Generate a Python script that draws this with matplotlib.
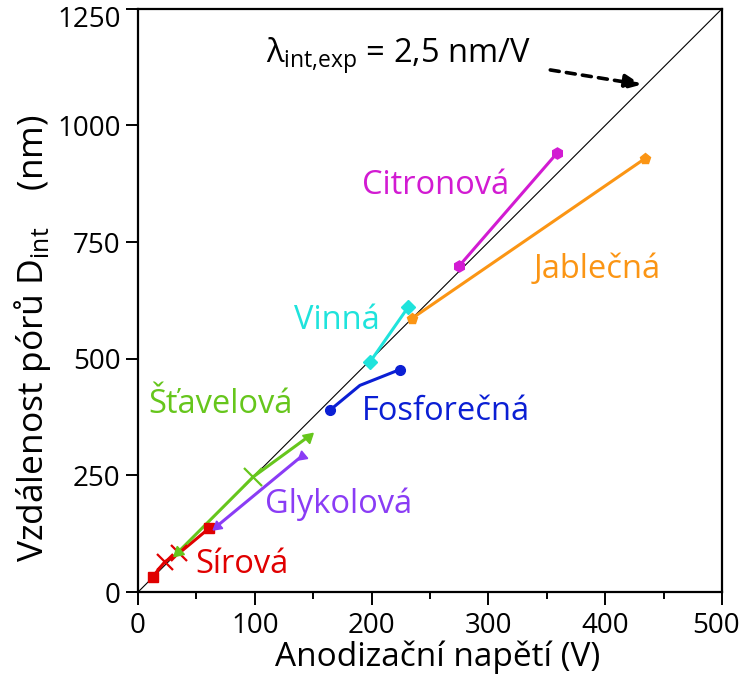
import numpy as np
import matplotlib
matplotlib.use("Agg")
import matplotlib.pyplot as plt
import matplotlib.transforms as mtransforms

plt.rcParams['font.family'] = ['Open Sans', 'DejaVu Sans']
plt.rcParams['mathtext.fontset'] = 'custom'
plt.rcParams['mathtext.rm'] = 'Open Sans'

# data (voltage V, distance nm)
sirova_x = [12.6, 23, 35, 61]
sirova_y = [33, 65, 83, 137]
stavel_x = [34.5, 98.7, 145.8]
stavel_y = [86, 247, 333]
glykol_x = [67.4, 140]
glykol_y = [141, 291]
fosfor_x = [164.4, 190, 224.3]
fosfor_y = [390, 443, 477]
vinna_x = [198.6, 231.4]
vinna_y = [493, 611]
jablec_x = [234.3, 434]
jablec_y = [586, 929]
citron_x = [275, 358.5]
citron_y = [699, 940]

lam = 2.5  # nm/V
lam_x = [0, 500]

labels = ["Sírová", "Šťavelová", "Glykolová", "Fosforečná", "Vinná", "Jablečná", "Citronová"]
label_x = [89, 71, 172, 264, 170, 393, 255]
label_y = [60, 401, 189, 388, 583, 692, 872]

RED = "#e00000"
GREEN = "#66c61c"
PURPLE = "#8a3cf5"
BLUE = "#0b1fd4"
CYAN = "#1fe3dc"
ORANGE = "#fb9514"
MAGENTA = "#d21bd2"
colors = [RED, GREEN, PURPLE, BLUE, CYAN, ORANGE, MAGENTA]

fig = plt.figure(figsize=(7.42, 6.79), dpi=100)
ax = fig.add_axes([0.186, 0.128, 0.787, 0.859])
ax.set_xlim(0, 500)
ax.set_ylim(0, 1250)

ax.plot(lam_x, [lam * v for v in lam_x], color="black", lw=0.8, zorder=1)

lw = 2.2
# Sirova: squares at ends, crosses in between
ax.plot(sirova_x, sirova_y, color=RED, lw=lw, zorder=3)
ax.plot([sirova_x[0], sirova_x[-1]], [sirova_y[0], sirova_y[-1]], ls="none",
        marker="s", ms=7, color=RED, zorder=4)
ax.plot(sirova_x[1:3], sirova_y[1:3], ls="none", marker="x", ms=12, mew=1.6,
        color=RED, zorder=4)


def direction(xs, ys, i0, i1):
    p0 = ax.transData.transform((xs[i0], ys[i0]))
    p1 = ax.transData.transform((xs[i1], ys[i1]))
    return np.degrees(np.arctan2(p1[1] - p0[1], p1[0] - p0[0]))


# Stavelova: arrowheads at both ends, cross in the middle
ax.plot(stavel_x, stavel_y, color=GREEN, lw=lw, zorder=3)
ang = direction(stavel_x, stavel_y, 0, -1)
ax.plot(stavel_x[-1:], stavel_y[-1:], ls="none", marker=(3, 0, ang - 90), ms=9,
        color=GREEN, zorder=4)
ax.plot(stavel_x[:1], stavel_y[:1], ls="none", marker=(3, 0, ang + 90), ms=9,
        color=GREEN, zorder=4)
ax.plot(stavel_x[1:2], stavel_y[1:2], ls="none", marker="x", ms=13, mew=1.6,
        color=GREEN, zorder=4)

# Glykolova
ax.plot(glykol_x, glykol_y, color=PURPLE, lw=lw, zorder=3)
ang = direction(glykol_x, glykol_y, 0, -1)
ax.plot(glykol_x, glykol_y, ls="none", marker=(3, 0, ang + 90), ms=8,
        color=PURPLE, zorder=4)

ax.plot(fosfor_x, fosfor_y, color=BLUE, lw=lw, zorder=3)
ax.plot([fosfor_x[0], fosfor_x[-1]], [fosfor_y[0], fosfor_y[-1]], ls="none",
        marker="o", ms=7, color=BLUE, zorder=4)
ax.plot(vinna_x, vinna_y, color=CYAN, lw=lw, marker="D", ms=7, zorder=3)
ax.plot(jablec_x, jablec_y, color=ORANGE, lw=lw, marker="p", ms=8, zorder=3)
ax.plot(citron_x, citron_y, color=MAGENTA, lw=lw, marker="h", ms=8, zorder=3)

for name, tx, ty, c in zip(labels, label_x, label_y, colors):
    ax.text(tx, ty, name, color=c, fontsize=23.5, ha="center", va="center")

ax.text(110, 1133, r"λ$_{\mathregular{int{,}exp}}$ = 2,5 nm/V", fontsize=23.5,
        ha="left", va="baseline", color="black")
ax.annotate("", xy=(431, lam * 431 + 10), xytext=(353, 1119),
            arrowprops=dict(arrowstyle="-|>,head_length=1.0,head_width=0.45",
                            ls=(0, (2.5, 2)), lw=2.6, color="black",
                            shrinkA=0, shrinkB=0))

ax.set_xticks([0, 100, 200, 300, 400, 500])
ax.set_xticks([50, 150, 250, 350, 450], minor=True)
ax.set_yticks([0, 250, 500, 750, 1000, 1250])
ax.tick_params(which="major", direction="out", length=9, width=1.4, labelsize=20)
ax.tick_params(axis="x", which="major", pad=5)
ax.tick_params(which="minor", direction="out", length=5, width=1.4)
for s in ax.spines.values():
    s.set_linewidth(1.6)

# edge tick labels: nudge inward so they stay inside the figure
fig.canvas.draw()
top_lbl = ax.get_yticklabels()[-1]
top_lbl.set_transform(top_lbl.get_transform() +
                      mtransforms.ScaledTranslation(0, -8 / 100, fig.dpi_scale_trans))
right_lbl = ax.get_xticklabels()[-1]
right_lbl.set_transform(right_lbl.get_transform() +
                        mtransforms.ScaledTranslation(-6 / 100, 0, fig.dpi_scale_trans))

ax.set_xlabel("Anodizační napětí (V)", fontsize=24)
ax.xaxis.set_label_coords(0.513, -0.083)
ax.set_ylabel(r"Vzdálenost pórů D$_{\mathregular{int}}$    (nm)", fontsize=25.5)
ax.yaxis.set_label_coords(-0.145, 0.435)

fig.savefig("out.png", dpi=100)
